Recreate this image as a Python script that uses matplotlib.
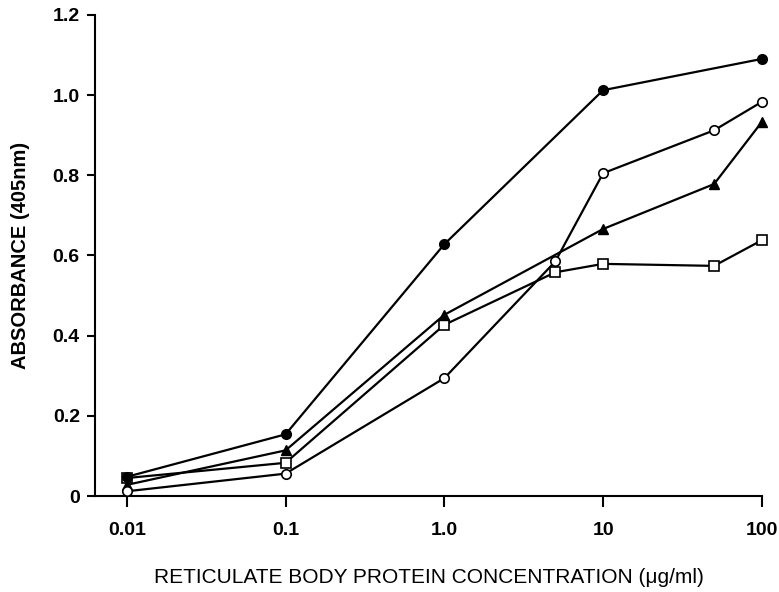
import matplotlib.pyplot as plt
import matplotlib.ticker as mticker

plt.rcParams['font.family'] = ['Liberation Sans', 'DejaVu Sans']

# concentrations (ug/ml) and absorbance for each series
conc_filled = [0.01, 0.1, 1, 10, 100]
abs_filled = [0.048, 0.154, 0.628, 1.012, 1.090]

conc_open = [0.01, 0.1, 1, 5, 10, 50, 100]
abs_open = [0.012, 0.056, 0.294, 0.585, 0.805, 0.912, 0.983]

conc_tri = [0.01, 0.1, 1, 10, 50, 100]
abs_tri = [0.028, 0.114, 0.452, 0.666, 0.778, 0.933]

conc_sq = [0.01, 0.1, 1, 5, 10, 50, 100]
abs_sq = [0.045, 0.083, 0.427, 0.558, 0.579, 0.574, 0.638]

x_ticks = [0.01, 0.1, 1, 10, 100]
x_ticklabels = ['0.01', '0.1', '1.0', '10', '100']
y_ticks = [0, 0.2, 0.4, 0.6, 0.8, 1.0, 1.2]
y_ticklabels = ['0', '0.2', '0.4', '0.6', '0.8', '1.0', '1.2']

fig = plt.figure(figsize=(7.79, 5.92), dpi=100)
ax = fig.add_axes([0.122, 0.162, 0.856, 0.813])

line_kw = dict(color='black', lw=1.6, clip_on=False, zorder=3)
ax.plot(conc_sq, abs_sq, marker='s', ms=6.8, mfc='white', mec='black', mew=1.2, **line_kw)
ax.plot(conc_tri, abs_tri, marker='^', ms=7, mfc='black', mec='black', **line_kw)
ax.plot(conc_open, abs_open, marker='o', ms=6.8, mfc='white', mec='black', mew=1.2, **line_kw)
ax.plot(conc_filled, abs_filled, marker='o', ms=7, mfc='black', mec='black', **line_kw)

ax.set_xscale('log')
ax.set_xlim(10 ** -2.2, 100)
ax.set_ylim(0, 1.2)

ax.xaxis.set_major_locator(mticker.FixedLocator(x_ticks))
ax.xaxis.set_minor_locator(mticker.NullLocator())
ax.set_xticklabels(x_ticklabels)
ax.set_yticks(y_ticks)
ax.set_yticklabels(y_ticklabels)

for side in ['top', 'right']:
    ax.spines[side].set_visible(False)
for side in ['left', 'bottom']:
    ax.spines[side].set_linewidth(1.5)

ax.tick_params(axis='x', direction='out', length=8, width=1.5, pad=11, labelsize=14)
ax.tick_params(axis='y', direction='out', length=6, width=1.5, pad=5, labelsize=14)
for lab in ax.get_xticklabels() + ax.get_yticklabels():
    lab.set_fontweight('bold')

fig.text(0.55, 0.024, 'RETICULATE BODY PROTEIN CONCENTRATION (\u03bcg/ml)',
         fontsize=15, ha='center', va='center')
ax.set_ylabel('ABSORBANCE (405nm)', fontsize=14.5, fontweight='bold', labelpad=16)

fig.savefig('out.png', dpi=100)
